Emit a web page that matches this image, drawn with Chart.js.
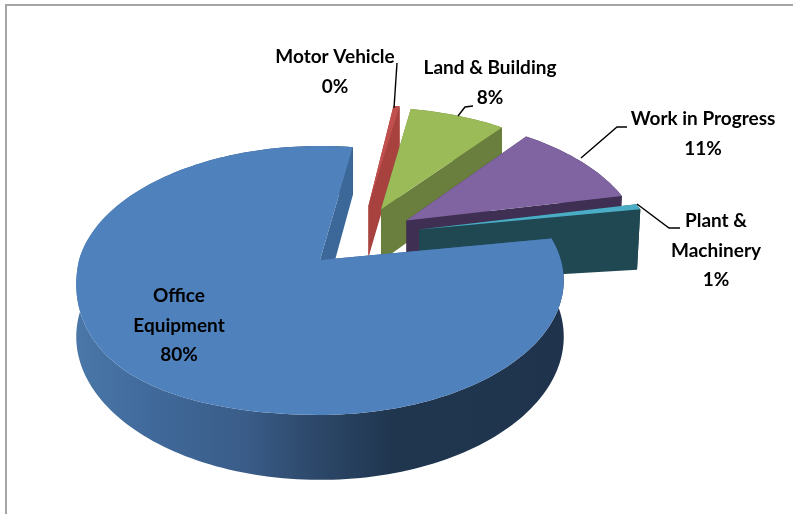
<!DOCTYPE html>
<html>
<head>
<meta charset="utf-8">
<style>
html,body{margin:0;padding:0;background:#fff;overflow:hidden}
#wrap{position:relative;width:793px;height:514px}
#frame{position:absolute;left:5px;top:4px;right:0;bottom:0;border-top:2px solid #a6a6a6;border-left:2px solid #a6a6a6}
canvas{position:absolute;left:0;top:0}
</style>
<script src="https://cdn.jsdelivr.net/npm/chart.js@4"></script>
</head>
<body>
<div id="wrap"><div id="frame"></div><canvas id="c" width="793" height="514"></canvas></div>
<script>
const categories = ['Office Equipment', 'Motor Vehicle', 'Land & Building', 'Work in Progress', 'Plant & Machinery'];
const values = [80.2, 0.49, 7.7, 10.9, 0.71];
const explodeOffsets = [0, 100, 100, 100, 100];
const topColors = ['#4f81bd', '#c0504d', '#9bbb59', '#8064a2', '#4bacc6'];
const wallColors = ['#3c6899', '#a8423f', '#6a7f3d', '#3f2f52', '#1f4852'];
const drawOrder = [1, 2, 3, 4, 0];

const view = {sx: 1.181, sy: 0.644, k: 0.152, depth: 0.27, bearing: -48, bearingBlend: 0.5, sag: 26, farDepth: 0.4, farSkew: 8};
const sideStops = [[0,'#4a76a8'],[0.15,'#406a9b'],[0.35,'#3a5c88'],[0.47,'#2e4a6d'],[0.65,'#20364f'],[1,'#1f334d']];
const labelStyle = [
  {x:179, y:296, wrap:true},
  {x:335, y:57},
  {x:490, y:68},
  {x:703, y:119},
  {x:716, y:221, wrap:true}
];
const leaders = [
  null,
  [[397,63],[394,108]],
  [[458,116],[465,107],[473,106]],
  [[581,158],[617,127],[627,127]],
  [[637,204],[669,228],[680,228]]
];

const pie3d = {
  id: 'pie3d',
  beforeDatasetsDraw(chart) {
    const ctx = chart.ctx;
    const arcs = chart.getDatasetMeta(0).data;
    const pr = (a, u, v, h) => {
      const R = a.outerRadius, s = 1 / (1 - view.k * v);
      const far = Math.max(0, u - 1);
      const sag = h ? 0 : view.sag * Math.max(0, -u) * Math.max(0, -u) * Math.max(0, v);
      return [
        a.x + R * view.sx * u * s - view.farSkew * far * h,
        a.y + R * view.sy * v * s + R * view.depth * h * s * (1 + view.farDepth * far) + sag
      ];
    };
    const poly = (pts, fill) => {
      ctx.beginPath();
      pts.forEach((p, i) => i ? ctx.lineTo(p[0], p[1]) : ctx.moveTo(p[0], p[1]));
      ctx.closePath();
      ctx.fillStyle = fill;
      ctx.fill();
    };
    drawOrder.forEach(i => {
      const a = arcs[i];
      const mid = (a.startAngle + a.endAngle) / 2;
      let rel = mid * 180 / Math.PI - view.bearing;
      while (rel > 180) rel -= 360;
      while (rel < -180) rel += 360;
      const dir = (view.bearing + rel * view.bearingBlend) * Math.PI / 180;
      const mag = a.options.offset / a.outerRadius;
      const ox = mag * Math.cos(dir), oy = mag * Math.sin(dir);
      const top = [], bot = [];
      const n = Math.max(6, Math.ceil((a.endAngle - a.startAngle) * 40));
      for (let j = 0; j <= n; j++) {
        const t = a.startAngle + (a.endAngle - a.startAngle) * j / n;
        top.push(pr(a, ox + Math.cos(t), oy + Math.sin(t), 0));
        bot.push(pr(a, ox + Math.cos(t), oy + Math.sin(t), 1));
      }
      const t0 = pr(a, ox, oy, 0), b0 = pr(a, ox, oy, 1);
      let side = wallColors[i];
      if (i === 0) {
        const xs = top.map(p => p[0]);
        const g = ctx.createLinearGradient(Math.min(...xs), 0, Math.max(...xs), 0);
        sideStops.forEach(s => g.addColorStop(s[0], s[1]));
        side = g;
      }
      poly(top.concat(bot.slice().reverse()), side);
      poly([t0, top[0], bot[0], b0], wallColors[i]);
      poly([t0, top[n], bot[n], b0], wallColors[i]);
      poly([t0].concat(top), topColors[i]);
    });
    return false;
  },
  afterDraw(chart) {
    const ctx = chart.ctx;
    const total = values.reduce((p, c) => p + c, 0);
    ctx.save();
    ctx.strokeStyle = '#000';
    ctx.lineWidth = 1.4;
    leaders.forEach(l => {
      if (!l) return;
      ctx.beginPath();
      l.forEach((p, i) => i ? ctx.lineTo(p[0], p[1]) : ctx.moveTo(p[0], p[1]));
      ctx.stroke();
    });
    ctx.fillStyle = '#000';
    ctx.font = 'bold 19px Lato';
    ctx.textAlign = 'center';
    ctx.textBaseline = 'middle';
    categories.forEach((name, i) => {
      const st = labelStyle[i];
      let lines = [name];
      if (st.wrap) {
        const cut = name.lastIndexOf(' ');
        lines = [name.slice(0, cut), name.slice(cut + 1)];
      }
      lines.push(Math.round(values[i] / total * 100) + '%');
      lines.forEach((ln, k) => ctx.fillText(ln, st.x, st.y + k * 29.5));
    });
    ctx.restore();
  }
};

new Chart(document.getElementById('c'), {
  type: 'pie',
  data: {
    labels: categories,
    datasets: [{data: values, backgroundColor: topColors, borderWidth: 0, offset: explodeOffsets}]
  },
  options: {
    responsive: false,
    animation: false,
    rotation: 80.3,
    layout: {padding: {left: 0, right: 153, top: 6, bottom: 0}},
    plugins: {legend: {display: false}, tooltip: {enabled: false}, title: {display: false}}
  },
  plugins: [pie3d]
});
</script>
</body>
</html>
